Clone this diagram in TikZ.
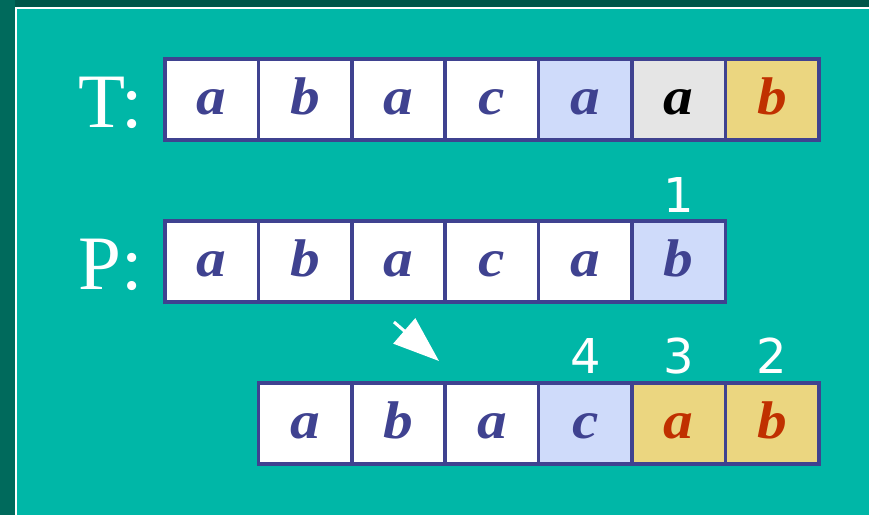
\documentclass[tikz,border=0pt]{standalone}
\usepackage{fontspec}
\setmainfont{Liberation Serif}
\newfontfamily\numfont{DejaVu Sans}
\newfontfamily\cellfont[FakeStretch=1.12]{Liberation Serif}
\usetikzlibrary{positioning,arrows.meta}

\definecolor{slidebg}{HTML}{00B7A7}
\definecolor{frametop}{HTML}{00564A}
\definecolor{frameleft}{HTML}{006A5C}
\definecolor{cellline}{HTML}{3F4290}
\definecolor{letterblue}{HTML}{3F4290}
\definecolor{letterred}{HTML}{C03000}
\definecolor{probe}{HTML}{CFDBFA}
\definecolor{seen}{HTML}{E5E5E5}
\definecolor{match}{HTML}{EBD680}

\begin{document}
\begin{tikzpicture}[
      x=1pt, y=-1pt,
      cell/.style  = {rectangle, draw=cellline, line width=3.5pt, outer sep=0pt,
                      inner sep=0pt, minimum width=93.4pt, minimum height=81pt,
                      text height=33pt, text depth=4pt, fill=white, text=letterblue,
                      font=\cellfont\fontsize{53}{60}\selectfont\bfseries\itshape},
      probed/.style = {fill=probe},
      grey/.style   = {fill=seen, text=black},
      hit/.style    = {fill=match, text=letterred},
      rowlbl/.style = {anchor=base west, inner sep=0pt, text=white,
                       font=\fontsize{77}{80}\selectfont},
      num/.style    = {anchor=base, inner sep=0pt, text=white,
                       font=\numfont\fontsize{48}{50}\selectfont},
      pointer/.style = {draw=white, line width=3pt, -{Triangle[length=46pt, width=33pt]}},
    ]
    \useasboundingbox (0,0) rectangle (869,515);
    %% ------------------------------------------------ slide frame
    \fill[slidebg] (0,0) rectangle (869,515);
    \fill[frametop] (0,0) rectangle (869,7.3);
    \fill[frameleft] (0,0) rectangle (15.3,515);
    \draw[white, line width=2pt] (16.3,530) |- (890,8.3);

    %% ------------------------------------------------ text T
    \node[rowlbl] (tl) at (78,127) {T:};
    \node[cell] (t1) at (211.7,99.5) {a};
    \node[cell, right=0pt of t1] (t2) {b};
    \node[cell, right=0pt of t2] (t3) {a};
    \node[cell, right=0pt of t3] (t4) {c};
    \node[cell, probed, right=0pt of t4] (t5) {a};
    \node[cell, grey, right=0pt of t5] (t6) {a};
    \node[cell, hit, right=0pt of t6] (t7) {b};

    %% ------------------------------------------------ pattern P, first try
    \node[rowlbl] (pl) at (78,289) {P:};
    \node[cell] (p1) at (211.7,261.5) {a};
    \node[cell, right=0pt of p1] (p2) {b};
    \node[cell, right=0pt of p2] (p3) {a};
    \node[cell, right=0pt of p3] (p4) {c};
    \node[cell, right=0pt of p4] (p5) {a};
    \node[cell, probed, right=0pt of p5] (p6) {b};
    \node[num] (n1) at (678.7,212) {1};

    %% ------------------------------------------------ pattern P, shifted
    \node[cell] (q1) at (305.1,423.5) {a};
    \node[cell, right=0pt of q1] (q2) {b};
    \node[cell, right=0pt of q2] (q3) {a};
    \node[cell, probed, right=0pt of q3] (q4) {c};
    \node[cell, hit, right=0pt of q4] (q5) {a};
    \node[cell, hit, right=0pt of q5] (q6) {b};
    \node[num] (n4) at (585.3,373) {4};
    \node[num] (n3) at (678.7,373) {3};
    \node[num] (n2) at (772.1,373) {2};

    %% ------------------------------------------------ shift arrow
    \coordinate (arrtail) at (394,322);
    \coordinate (arrtip) at (439,361);
    \draw[pointer] (arrtail) -- (arrtip);
  \end{tikzpicture}
\end{document}
